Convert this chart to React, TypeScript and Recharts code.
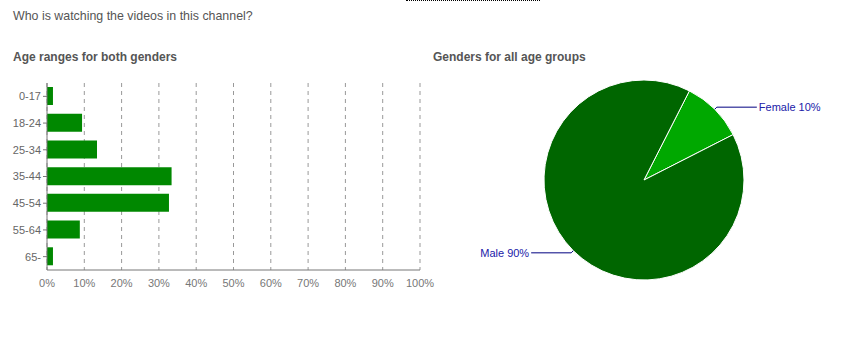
import { BarChart, Bar, XAxis, YAxis, CartesianGrid, PieChart, Pie, Cell } from 'recharts';

const ageGroups = ['0-17', '18-24', '25-34', '35-44', '45-54', '55-64', '65-'];
const agePercents = [1.6, 9.4, 13.4, 33.4, 32.7, 8.8, 1.6];
const percentTicks = [0, 10, 20, 30, 40, 50, 60, 70, 80, 90, 100];

const genders = ['Female', 'Male'];
const genderPercents = [10, 90];
const genderColors = ['#00a800', '#006600'];

const ageData = ageGroups.map((name, i) => ({ name, value: agePercents[i] }));
const genderData = genders.map((name, i) => ({ name, value: genderPercents[i] }));

const FONT = 'Arial, "Liberation Sans", sans-serif';
const RAD = Math.PI / 180;

// leader line: short radial step out of the slice, then a horizontal run to the text
function GenderLabel(props: any) {
  const { cx, cy, midAngle, outerRadius, name, value } = props;
  const cos = Math.cos(-midAngle * RAD);
  const sin = Math.sin(-midAngle * RAD);
  const x0 = cx + outerRadius * cos;
  const y0 = cy + outerRadius * sin;
  const x1 = cx + (outerRadius + 3) * cos;
  const y1 = cy + (outerRadius + 3) * sin;
  const right = cos >= 0;
  const x2 = x1 + (right ? 40 : -40);
  return (
    <g>
      <path d={`M${x0},${y0}L${x1},${y1}L${x2},${y1}`} stroke="#000080" strokeWidth={1} fill="none" />
      <text
        x={x2 + (right ? 2 : -2)}
        y={y1}
        dy="0.35em"
        textAnchor={right ? 'start' : 'end'}
        fill="#2020a8"
        fontSize={11}
        fontFamily={FONT}
      >
        {`${name} ${value}%`}
      </text>
    </g>
  );
}

export default function App() {
  return (
    <div
      style={{
        position: 'absolute',
        left: 0,
        top: 0,
        width: 861,
        height: 348,
        background: '#fff',
        fontFamily: FONT,
        overflow: 'hidden',
      }}
    >
      <div style={{ position: 'absolute', left: 406, top: 0, width: 134, borderTop: '1px dotted #000' }} />
      <div style={{ position: 'absolute', left: 13, top: 9, fontSize: 12.4, color: '#555' }}>
        Who is watching the videos in this channel?
      </div>
      <div style={{ position: 'absolute', left: 13, top: 50, fontSize: 12, fontWeight: 'bold', color: '#555' }}>
        Age ranges for both genders
      </div>
      <div style={{ position: 'absolute', left: 433, top: 50, fontSize: 12, fontWeight: 'bold', color: '#555' }}>
        Genders for all age groups
      </div>

      <div style={{ position: 'absolute', left: 0, top: 0 }}>
        <BarChart
          width={440}
          height={300}
          data={ageData}
          layout="vertical"
          margin={{ top: 83, right: 20, bottom: 0, left: 0 }}
          barSize={18}
        >
          <CartesianGrid horizontal={false} stroke="#999" strokeDasharray="4 4" />
          <XAxis
            type="number"
            domain={[0, 100]}
            ticks={percentTicks}
            tickFormatter={(v: number) => `${v}%`}
            height={30}
            tickLine={false}
            tickSize={7}
            axisLine={{ stroke: '#777' }}
            tick={{ fill: '#777', fontSize: 11, fontFamily: FONT }}
            interval={0}
          />
          <YAxis
            type="category"
            dataKey="name"
            width={47}
            tickSize={4}
            tickLine={{ stroke: '#777' }}
            axisLine={{ stroke: '#777' }}
            tick={{ fill: '#666', fontSize: 11, fontFamily: FONT }}
            interval={0}
          />
          <Bar dataKey="value" fill="#008800" isAnimationActive={false} />
        </BarChart>
      </div>

      <div style={{ position: 'absolute', left: 420, top: 0 }}>
        <PieChart width={441} height={348} margin={{ top: 0, right: 0, bottom: 0, left: 0 }}>
          <Pie
            data={genderData}
            dataKey="value"
            nameKey="name"
            cx={224}
            cy={180}
            outerRadius={100}
            startAngle={63}
            endAngle={-297}
            stroke="#fff"
            strokeWidth={1}
            label={GenderLabel}
            labelLine={false}
            isAnimationActive={false}
          >
            {genderData.map((d, i) => (
              <Cell key={d.name} fill={genderColors[i]} />
            ))}
          </Pie>
        </PieChart>
      </div>
    </div>
  );
}
